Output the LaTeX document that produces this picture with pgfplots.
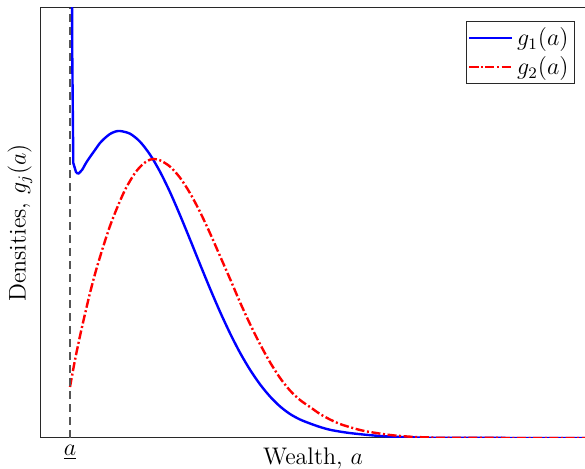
\documentclass[border=0pt]{standalone}
\usepackage{pgfplots}
\pgfplotsset{compat=1.18}
\definecolor{framegray}{RGB}{40,40,40}
\definecolor{dashgray}{RGB}{85,85,85}

\begin{document}
\begin{tikzpicture}
\begin{axis}[
    scale only axis,
    width=272pt, height=215pt,
    xmin=41, xmax=585,
    ymin=0, ymax=430,
    xtick={70}, xticklabels={$\underline{a}$},
    ytick=\empty,
    major tick length=0pt,
    tick label style={font=\large},
    axis line style={framegray, line width=0.5pt},
    xlabel={Wealth, $a$},
    ylabel={Densities, $g_j(a)$},
    label style={font=\large},
    xlabel style={at={(axis description cs:0.5,-0.047)}, anchor=center},
    ylabel style={at={(axis description cs:-0.0386,0.5)}, anchor=center},
    legend style={at={(axis description cs:1,1)}, anchor=north east,
        xshift=-5pt, yshift=-6.5pt, draw=framegray, line width=0.5pt,
        inner sep=1pt, row sep=0pt, font=\large},
    legend image post style={xscale=1.25},
    legend cell align=left,
]
% steep left part of g1, drawn straight
\addplot[blue, line width=1.2pt, forget plot, line join=round] coordinates {
    (71.9,460) (72.3,380) (73.3,275) (76,266) (78,264)
};
\addplot[blue, line width=1.2pt, smooth] coordinates {
    (78,264) (82,268) (86,275) (90,281) (95,288) (100,295) (105,300)
    (110,304) (115,306.3) (120,307) (130,304.3) (140,296.3) (150,283.4)
    (160,266.3) (170,245.9) (180,222.9) (190,198.6) (200,173.8) (210,149.5)
    (220,126.3) (230,104.8) (240,85.3) (250,68.3) (260,53.7) (270,41.5)
    (280,31.6) (290,24) (300,18.5) (310,14.5) (320,11) (330,8.2) (345,5.6)
    (360,3.8) (380,2) (400,1) (420,0.4) (440,0.1) (585,0)
};
\addlegendentry{$g_1(a)$}
\addplot[red, line width=1.2pt, smooth,
    dash pattern=on 4.5pt off 1.3pt on 1pt off 1.3pt] coordinates {
    (70,51) (75,78) (80,102) (85,124) (90,145) (95,164) (100,181) (105,197)
    (110,212) (115,225) (120,237) (125,248) (130,257) (135,265) (140,271)
    (145,275.5) (150,278.3) (153,279) (160,277.7) (170,271.4) (180,260.3)
    (190,244.9) (200,226.1) (210,204.8) (220,182) (230,159.2) (240,135.8)
    (250,114) (260,93.9) (270,75.8) (280,60.1) (290,47.5) (300,38)
    (310,31) (320,24) (330,18.5) (340,14) (350,10.8) (360,8) (370,6)
    (390,3) (410,1.3) (430,0.5) (450,0.1) (585,0)
};
\addlegendentry{$g_2(a)$}
\addplot[dashgray, line width=0.7pt, dash pattern=on 4pt off 2.5pt, forget plot]
    coordinates {(70,0) (70,430)};
\end{axis}
\pgfresetboundingbox
\path (current axis.south west) ++(-20.5pt,-15.5pt) rectangle ++(292.5pt,234.5pt);
\end{tikzpicture}
\end{document}
